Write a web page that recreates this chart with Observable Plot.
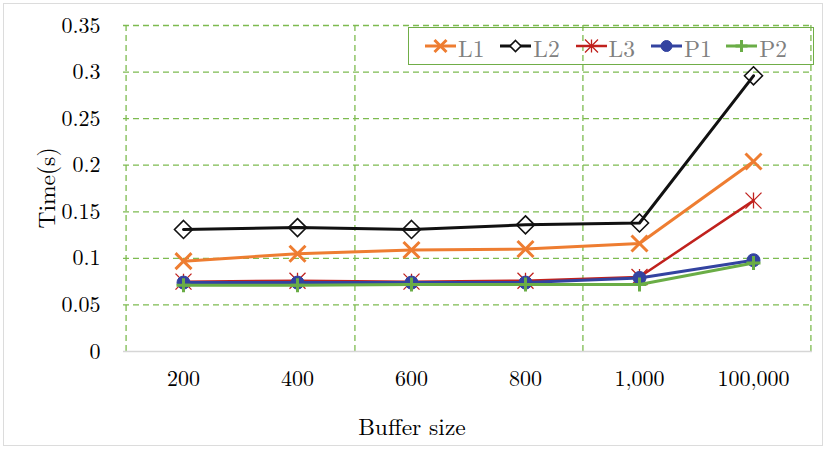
<!DOCTYPE html>
<html>
<head>
<meta charset="utf-8">
<script src="https://cdn.jsdelivr.net/npm/d3@7"></script>
<script src="https://cdn.jsdelivr.net/npm/@observablehq/plot@0.6"></script>
<style>
  body { margin: 0; background: #fff; }
  #wrap { position: relative; width: 826px; height: 449px; overflow: hidden;
          font-family: "Latin Modern Roman", "CMU Serif", "Liberation Serif", serif; }
  #wrap svg { display: block; }
  #border { position: absolute; left: 3px; top: 3px; width: 818px; height: 441px;
            border: 1px solid #dcdcdc; pointer-events: none; }
  .title { position: absolute; font-size: 23.5px; color: #000; white-space: nowrap; }
  #ytitle { left: 45px; top: 188px; transform: translate(-50%, -50%) rotate(-90deg); }
  #xtitle { left: 412px; top: 425px; transform: translate(-50%, -50%); }
  #legend { position: absolute; left: 408px; top: 27px; width: 388px; height: 36px;
            border: 1.5px solid #70ad47; display: flex; align-items: center;
            padding-left: 16px; box-sizing: content-box; }
  .item { display: flex; align-items: center; width: 75.3px; flex: none; }
  .item svg { flex: none; }
  .item span { margin-left: 2px; font-size: 23.5px; color: #808080; line-height: 1; margin-top: 3px; }
</style>
</head>
<body>
<div id="wrap">
  <div id="chart"></div>
  <div id="border"></div>
  <div class="title" id="ytitle">Time(s)</div>
  <div class="title" id="xtitle">Buffer size</div>
  <div id="legend"></div>
</div>
<script>
// Buffer sizes along the category axis
const bufferSizes = ["200", "400", "600", "800", "1,000", "100,000"];
const seriesNames = ["L1", "L2", "L3", "P1", "P2"];

// Measured times (s) for each configuration
const L1 = [0.097, 0.105, 0.109, 0.110, 0.116, 0.204];
const L2 = [0.131, 0.133, 0.131, 0.136, 0.138, 0.296];
const L3 = [0.075, 0.076, 0.075, 0.076, 0.080, 0.162];
const P1 = [0.074, 0.074, 0.074, 0.074, 0.079, 0.098];
const P2 = [0.071, 0.071, 0.072, 0.072, 0.072, 0.095];

const yTicks = [0, 0.05, 0.1, 0.15, 0.2, 0.25, 0.3, 0.35];

const values = {L1, L2, L3, P1, P2};

// Marker shapes; the radius handed to draw() is the dot's r
const sym = (fn) => ({draw(ctx, size) { fn(ctx, Math.sqrt(size / Math.PI)); }});
const timesSym = sym((c, r) => { c.moveTo(-r, -r); c.lineTo(r, r); c.moveTo(-r, r); c.lineTo(r, -r); });
const diamondSym = sym((c, r) => { c.moveTo(0, -r); c.lineTo(r, 0); c.lineTo(0, r); c.lineTo(-r, 0); c.closePath(); });
const asteriskSym = sym((c, r) => {
  c.moveTo(-r, -r); c.lineTo(r, r); c.moveTo(-r, r); c.lineTo(r, -r);
  c.moveTo(0, -r); c.lineTo(0, r);
});
const circleSym = sym((c, r) => { c.moveTo(r, 0); c.arc(0, 0, r, 0, 2 * Math.PI); });
const plusSym = sym((c, r) => { c.moveTo(-r, 0); c.lineTo(r, 0); c.moveTo(0, -r); c.lineTo(0, r); });

const styles = {
  L1: {color: "#ee7d31", lineWidth: 3, symbol: timesSym, r: 8, fill: "none", markerStroke: 3, legendR: 6},
  L2: {color: "#111111", lineWidth: 3, symbol: diamondSym, r: 9, fill: "none", markerStroke: 1.6, legendR: 5.5},
  L3: {color: "#c0211d", lineWidth: 2.5, symbol: asteriskSym, r: 8, fill: "none", markerStroke: 1.3, legendR: 6.5},
  P1: {color: "#3343a0", lineWidth: 3, symbol: circleSym, r: 6.5, fill: "#3343a0", markerStroke: 1, legendR: 5.5},
  P2: {color: "#6aad46", lineWidth: 3, symbol: plusSym, r: 7, fill: "none", markerStroke: 3, legendR: 6}
};

const rows = seriesNames.flatMap(name =>
  bufferSizes.map((size, i) => ({series: name, size, time: values[name][i]}))
);

const W = 826, H = 449;
const mLeft = 123, mRight = 14, mTop = 25, mBottom = 98;
const step = (W - mLeft - mRight) / bufferSizes.length;
const gridColor = "#7dbb50";
const fontFamily = '"Latin Modern Roman", "CMU Serif", "Liberation Serif", serif';

const seriesMarks = seriesNames.flatMap(name => {
  const s = styles[name];
  const data = rows.filter(d => d.series === name);
  return [
    Plot.line(data, {x: "size", y: "time", stroke: s.color, strokeWidth: s.lineWidth, strokeLinejoin: "round"}),
    Plot.dot(data, {x: "size", y: "time", symbol: s.symbol, r: s.r, fill: s.fill,
                    stroke: s.color, strokeWidth: s.markerStroke})
  ];
});

const chart = Plot.plot({
  width: W,
  height: H,
  marginLeft: mLeft,
  marginRight: mRight,
  marginTop: mTop,
  marginBottom: mBottom,
  style: {fontFamily, fontSize: "22px", color: "#000", background: "transparent", overflow: "visible"},
  x: {type: "point", domain: bufferSizes, padding: 0.5, label: null, tickSize: 0, tickPadding: 19},
  y: {domain: [0, 0.35], ticks: yTicks, tickFormat: d => String(d), tickSize: 0, tickPadding: 23, label: null},
  marks: [
    // dashed horizontal gridlines
    Plot.ruleY(yTicks.slice(1), {stroke: gridColor, strokeWidth: 1.3, strokeDasharray: "6,4"}),
    // dashed vertical gridlines at every second category boundary
    Plot.ruleX([bufferSizes[0]], {dx: -step / 2, stroke: gridColor, strokeWidth: 1.3, strokeDasharray: "6,4"}),
    Plot.ruleX([bufferSizes[1], bufferSizes[3], bufferSizes[5]], {dx: step / 2, stroke: gridColor, strokeWidth: 1.3, strokeDasharray: "6,4"}),
    // category axis line
    Plot.ruleY([0], {stroke: "#d6d6d6", strokeWidth: 1.5}),
    ...seriesMarks
  ]
});
document.getElementById("chart").append(chart);

// Legend: line swatch with its marker, followed by the series name
const legend = d3.select("#legend");
for (const name of seriesNames) {
  const s = styles[name];
  const item = legend.append("div").attr("class", "item");
  const svg = item.append("svg").attr("width", 31).attr("height", 20);
  svg.append("line").attr("x1", 0).attr("x2", 31).attr("y1", 10).attr("y2", 10)
    .attr("stroke", s.color).attr("stroke-width", s.lineWidth);
  const p = d3.path();
  s.symbol.draw(p, s.legendR * s.legendR * Math.PI);
  svg.append("path").attr("transform", "translate(15.5,10)").attr("d", p.toString())
    .attr("fill", s.fill === "none" ? (name === "L2" ? "#fff" : "none") : s.fill)
    .attr("stroke", s.color).attr("stroke-width", s.markerStroke);
  item.append("span").text(name);
}
</script>
</body>
</html>
